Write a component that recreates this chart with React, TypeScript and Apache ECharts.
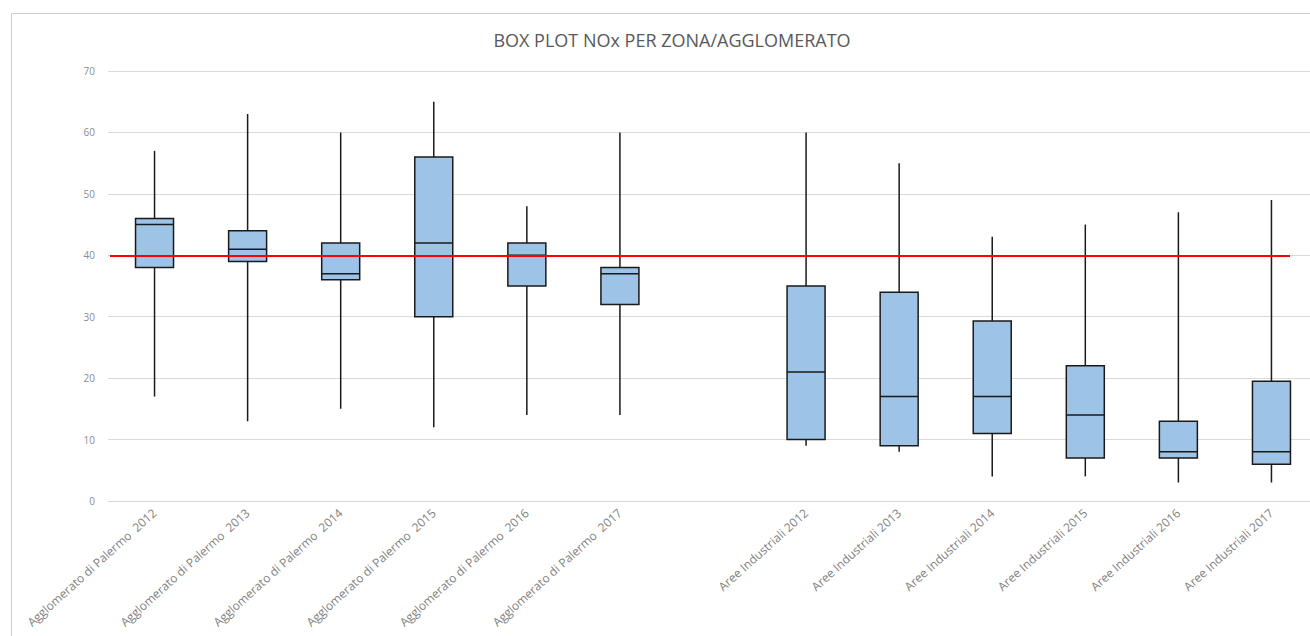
import React, { useEffect, useRef } from "react";
import * as echarts from "echarts";

const categories = [
  "Agglomerato di Palermo  2012",
  "Agglomerato di Palermo  2013",
  "Agglomerato di Palermo  2014",
  "Agglomerato di Palermo  2015",
  "Agglomerato di Palermo  2016",
  "Agglomerato di Palermo  2017",
  "",
  "Aree Industriali 2012",
  "Aree Industriali 2013",
  "Aree Industriali 2014",
  "Aree Industriali 2015",
  "Aree Industriali 2016",
  "Aree Industriali 2017",
];

// null = empty gap category
const minValues = [17, 13, 15, 12, 14, 14, null, 9, 8, 4, 4, 3, 3];
const q1Values = [38, 39, 36, 30, 35, 32, null, 10, 9, 11, 7, 7, 6];
const medianValues = [45, 41, 37, 42, 40, 37, null, 21, 17, 17, 14, 8, 8];
const q3Values = [46, 44, 42, 56, 42, 38, null, 35, 34, 29.3, 22, 13, 19.5];
const maxValues = [57, 63, 60, 65, 48, 60, null, 60, 55, 43, 45, 47, 49];

const yTicks = { min: 0, max: 70, interval: 10 };
const limitValue = 40;
const titleText = "BOX PLOT NOx PER ZONA/AGGLOMERATO";

export default function App() {
  const ref = useRef<HTMLDivElement>(null);

  useEffect(() => {
    if (!ref.current) return;
    const chart = echarts.init(ref.current, null, { renderer: "svg" });

    const boxData: number[][] = [];
    categories.forEach((_, i) => {
      if (minValues[i] == null) return;
      boxData.push([
        i,
        minValues[i] as number,
        q1Values[i] as number,
        medianValues[i] as number,
        q3Values[i] as number,
        maxValues[i] as number,
      ]);
    });

    const boxWidth = 38;
    const strokeColor = "#1a1a1a";

    chart.setOption({
      animation: false,
      backgroundColor: "#ffffff",
      graphic: [
        {
          type: "rect",
          shape: { x: 11.5, y: 13.5, width: 1330, height: 650 },
          style: { fill: "none", stroke: "#cfcfcf", lineWidth: 1 },
          silent: true,
        },
        {
          type: "text",
          x: 672,
          y: 40,
          style: {
            text: titleText,
            fill: "#595959",
            font: '18px "Open Sans"',
            textAlign: "center",
            textVerticalAlign: "middle",
          },
          silent: true,
        },
      ],
      grid: {
        left: 108,
        top: 71,
        width: 1210,
        height: 430,
        containLabel: false,
        outerBoundsMode: "none",
      },
      xAxis: {
        type: "category",
        data: categories,
        boundaryGap: true,
        axisTick: { show: false },
        axisLine: { show: true, lineStyle: { color: "#d9d9d9", width: 1 } },
        axisLabel: {
          interval: 0,
          rotate: 42,
          margin: 10,
          color: "#7f7f7f",
          fontSize: 12,
          fontFamily: "Open Sans",
        },
        splitLine: { show: false },
      },
      yAxis: {
        type: "value",
        min: yTicks.min,
        max: yTicks.max,
        interval: yTicks.interval,
        axisLine: { show: false },
        axisTick: { show: false },
        axisLabel: {
          color: "#8c8c8c",
          fontSize: 10,
          margin: 13,
          fontFamily: "Open Sans",
        },
        splitLine: { show: true, lineStyle: { color: "#d9d9d9", width: 1 } },
      },
      series: [
        {
          type: "custom",
          encode: { x: 0, y: [1, 2, 3, 4, 5] },
          data: boxData,
          renderItem: (params: any, api: any) => {
            const x = api.value(0);
            const pMin = api.coord([x, api.value(1)]);
            const pQ1 = api.coord([x, api.value(2)]);
            const pMed = api.coord([x, api.value(3)]);
            const pQ3 = api.coord([x, api.value(4)]);
            const pMax = api.coord([x, api.value(5)]);
            const cx = pMin[0];
            return {
              type: "group",
              children: [
                {
                  type: "line",
                  shape: { x1: cx, y1: pMin[1], x2: cx, y2: pMax[1] },
                  style: { stroke: strokeColor, lineWidth: 1.5 },
                },
                {
                  type: "rect",
                  shape: {
                    x: cx - boxWidth / 2,
                    y: pQ3[1],
                    width: boxWidth,
                    height: pQ1[1] - pQ3[1],
                  },
                  style: { fill: "#9dc3e6", stroke: strokeColor, lineWidth: 1.5 },
                },
                {
                  type: "line",
                  shape: {
                    x1: cx - boxWidth / 2,
                    y1: pMed[1],
                    x2: cx + boxWidth / 2,
                    y2: pMed[1],
                  },
                  style: { stroke: strokeColor, lineWidth: 1.5 },
                },
              ],
            };
          },
          markLine: {
            silent: true,
            symbol: "none",
            label: { show: false },
            lineStyle: { color: "#ff0000", width: 2, type: "solid" },
            data: [[{ x: 110, yAxis: limitValue }, { x: 1290, yAxis: limitValue }]],
          },
          z: 2,
        },
      ],
    });

    return () => chart.dispose();
  }, []);

  return (
    <div
      ref={ref}
      style={{ position: "fixed", left: 0, top: 0, width: 1310, height: 636 }}
    />
  );
}
